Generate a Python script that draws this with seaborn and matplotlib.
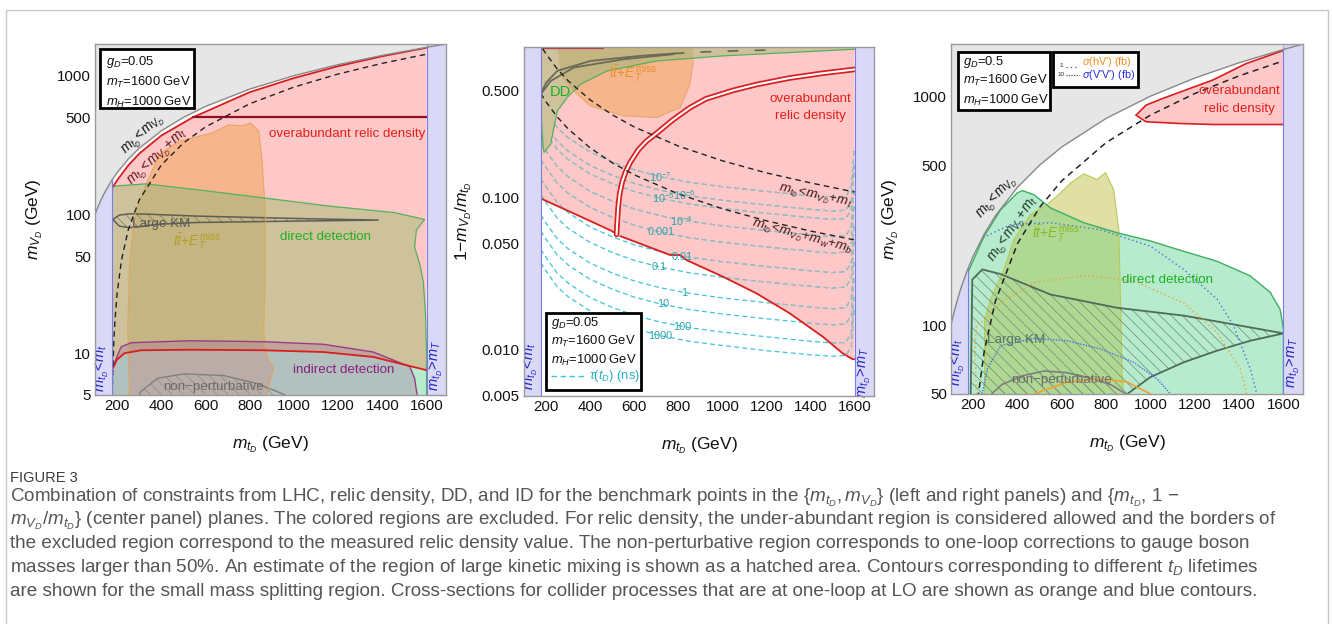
import numpy as np
import matplotlib
matplotlib.use("Agg")
import matplotlib.pyplot as plt
import seaborn as sns
from matplotlib.patches import Polygon, Rectangle
from matplotlib.lines import Line2D
from matplotlib.ticker import FixedLocator, FixedFormatter, MultipleLocator, LogLocator, NullFormatter

# ---------------- data ----------------
x_ticks = [200, 400, 600, 800, 1000, 1200, 1400, 1600]
x_ticklabels = ["200", "400", "600", "800", "1000", "1200", "1400", "1600"]
left_yticks = [5, 10, 50, 100, 500, 1000]
left_yticklabels = ["5", "10", "50", "100", "500", "1000"]
mid_yticks = [0.005, 0.01, 0.05, 0.1, 0.5]
mid_yticklabels = ["0.005", "0.010", "0.050", "0.100", "0.500"]
right_yticks = [50, 100, 500, 1000]
right_yticklabels = ["50", "100", "500", "1000"]

# kinematic boundary m_tD = m_VD
diag_x = [100, 110, 120, 135, 150, 175, 200, 250, 300, 400, 500, 600, 800, 1000, 1200, 1400, 1600]
diag_y = [100, 110, 120, 135, 150, 175, 200, 250, 300, 400, 500, 600, 800, 1000, 1200, 1400, 1600]
# m_tD = m_VD + m_t
mt_x = [178, 180, 185, 190, 200, 220, 250, 300, 400, 500, 600, 800, 1000, 1200, 1400, 1600]
mt_y = [5, 7, 12, 17, 27, 47, 77, 127, 227, 327, 427, 627, 827, 1027, 1227, 1427]

# ---- left panel (g_D = 0.05) ----
l_relic_lo_x = [181, 200, 233, 308, 533, 863, 1133, 1359, 1509, 1600]
l_relic_lo_y = [7.8, 9.0, 10.0, 10.5, 10.6, 10.5, 10.2, 9.4, 8.2, 7.55]
l_relic_hi_x = [181, 200, 250, 300, 400, 542, 800, 1000, 1200, 1400, 1600]
l_relic_hi_y = [158, 176, 225, 274, 370, 500, 760, 960, 1170, 1380, 1590]
l_relic500_x = [542, 1600]
l_relic500_y = [500, 500]
l_dd_top_x = [177, 188, 331, 556, 856, 1156, 1456, 1591]
l_dd_top_y = [160, 160, 166, 151, 132, 115, 103, 92]
l_dd_right_x = [1554, 1546, 1569, 1585, 1595, 1600, 1600]
l_dd_right_y = [77, 58, 44, 33, 20, 10, 5]
l_lhc_x = [256, 248, 256, 271, 286, 331, 390, 480, 631, 706, 766, 803, 841, 856, 871, 871, 863, 878, 908, 893, 878]
l_lhc_y = [5, 14.6, 44, 77, 106, 164, 270, 336, 387, 443, 435, 457, 398, 241, 106, 35, 14.6, 9.4, 7.9, 6.4, 5]
l_id_x = [181, 218, 263, 533, 863, 1133, 1359, 1524, 1546, 1554, 1558]
l_id_y = [8.0, 11.1, 11.9, 12.3, 12.1, 11.6, 10.2, 8.0, 6.6, 5.4, 5.0]
l_np_x = [300, 308, 383, 503, 683, 833, 923, 961]
l_np_y = [5, 5.3, 6.6, 7.1, 6.9, 6.05, 5.3, 5]
l_km_x = [181, 210, 255, 331, 556, 1006, 1381, 1006, 556, 376, 286, 255, 210, 181]
l_km_y = [92, 98.9, 101, 100.5, 97.3, 93.5, 91, 89.5, 87.5, 84.7, 81, 80.2, 82.4, 92]

# ---- centre panel (1 - m_VD/m_tD) ----
m_relic_lo_x = [176, 326, 499, 505, 537, 763, 808, 838, 1004, 1154, 1305, 1456, 1546, 1591, 1600]
m_relic_lo_y = [0.098, 0.0782, 0.060, 0.059, 0.0556, 0.0418, 0.0418, 0.0387, 0.0301, 0.0235, 0.0174, 0.0122, 0.0095, 0.0087, 0.0087]
m_chan_x = [520, 522, 527, 534, 545, 560, 582, 620, 655, 702, 775, 853, 926, 1050, 1154, 1300, 1450, 1600]
m_chan_y = [0.057, 0.065, 0.085, 0.105, 0.125, 0.145, 0.169, 0.205, 0.232, 0.262, 0.32, 0.385, 0.44, 0.5, 0.545, 0.6, 0.645, 0.685]
m_dd_x = [176, 176, 180, 186, 191, 221, 236, 251, 296, 357, 477, 703, 1004, 1305, 1591, 1600, 1600]
m_dd_y = [0.99, 0.45, 0.30, 0.22, 0.196, 0.222, 0.286, 0.366, 0.449, 0.548, 0.67, 0.778, 0.84, 0.883, 0.927, 0.93, 0.99]
m_lhc_x = [251, 266, 326, 401, 552, 703, 808, 853, 868, 868]
m_lhc_y = [0.99, 0.637, 0.495, 0.395, 0.34, 0.332, 0.385, 0.548, 0.778, 0.99]
m_kmA_x = [176, 221, 326, 552, 778]
m_kmA_y = [0.471, 0.575, 0.705, 0.798, 0.861]
m_kmB_x = [176, 200, 251, 401, 627, 778]
m_kmB_y = [0.471, 0.56, 0.67, 0.778, 0.84, 0.87]
m_kmC_x = [778, 900, 1050, 1250]
m_kmC_y = [0.87, 0.89, 0.905, 0.92]
m_mt_x = [185, 200, 250, 300, 400, 500, 600, 800, 1000, 1200, 1400, 1600]
m_mt_y = [0.935, 0.865, 0.692, 0.577, 0.433, 0.346, 0.288, 0.216, 0.173, 0.144, 0.124, 0.108]
m_wb_x = [176, 200, 250, 300, 400, 500, 600, 800, 1000, 1200, 1400, 1600]
m_wb_y = [0.477, 0.42, 0.336, 0.28, 0.21, 0.168, 0.14, 0.105, 0.084, 0.07, 0.06, 0.0525]
# t_D lifetime contours (ns)
tau_x = [176, 200, 250, 300, 400, 500, 600, 720, 850, 1000, 1200, 1400, 1500, 1560, 1585, 1598]
tau_1000 = [0.0372, 0.0329, 0.0260, 0.0223, 0.0180, 0.0155, 0.0138, 0.0124, 0.0114, 0.0107, 0.0099, 0.0093, 0.0091, 0.0092, 0.0105, 0.0186]
tau_100 = [0.0456, 0.0403, 0.0319, 0.0274, 0.0220, 0.0190, 0.0169, 0.0152, 0.0140, 0.0131, 0.0122, 0.0114, 0.0111, 0.0112, 0.0129, 0.0228]
tau_10 = [0.060, 0.053, 0.042, 0.036, 0.029, 0.025, 0.0222, 0.020, 0.0184, 0.0172, 0.016, 0.015, 0.0146, 0.0148, 0.017, 0.030]
tau_1 = [0.0765, 0.0676, 0.0536, 0.0459, 0.0370, 0.0319, 0.0283, 0.0255, 0.0235, 0.0219, 0.0204, 0.0191, 0.0186, 0.0189, 0.0217, 0.0383]
tau_0p1 = [0.104, 0.0922, 0.0731, 0.0626, 0.0505, 0.0435, 0.0386, 0.0348, 0.0320, 0.0299, 0.0278, 0.0261, 0.0254, 0.0258, 0.0296, 0.0522]
tau_0p01 = [0.132, 0.117, 0.0924, 0.0792, 0.0638, 0.055, 0.0488, 0.044, 0.0405, 0.0378, 0.0352, 0.033, 0.0321, 0.0326, 0.0374, 0.066]
tau_1em3 = [0.177, 0.156, 0.124, 0.106, 0.0856, 0.0738, 0.0655, 0.059, 0.0543, 0.0507, 0.0472, 0.0443, 0.0431, 0.0437, 0.0502, 0.0885]
tau_1em4 = [0.227, 0.200, 0.159, 0.136, 0.109, 0.0944, 0.0838, 0.0755, 0.0695, 0.0649, 0.0604, 0.0566, 0.0551, 0.0559, 0.0642, 0.113]
tau_1em5 = [0.294, 0.260, 0.206, 0.176, 0.142, 0.1225, 0.109, 0.098, 0.0902, 0.0843, 0.0784, 0.0735, 0.0715, 0.0725, 0.0833, 0.147]
tau_1em6 = [0.333, 0.294, 0.233, 0.200, 0.161, 0.139, 0.123, 0.111, 0.102, 0.0955, 0.0888, 0.0833, 0.081, 0.0821, 0.0944, 0.167]
tau_1em7 = [0.408, 0.360, 0.286, 0.245, 0.197, 0.170, 0.151, 0.136, 0.125, 0.117, 0.109, 0.102, 0.0993, 0.101, 0.116, 0.204]
tau_labels = ["1000", "100", "10", "1", "0.1", "0.01", "0.001", r"$10^{-4}$", r"$10^{-5}$", r"$10^{-6}$", r"$10^{-7}$"]
tau_label_x = [718, 816, 730, 828, 715, 817, 723, 813, 733, 828, 719]
tau_label_y = [0.0124, 0.0142, 0.0200, 0.0235, 0.0348, 0.0407, 0.0593, 0.070, 0.098, 0.103, 0.136]

# ---- right panel (g_D = 0.5) ----
r_dd_x = [175, 175, 249, 324, 399, 422, 474, 549, 699, 850, 1000, 1150, 1300, 1450, 1540, 1585, 1600, 1600]
r_dd_y = [50, 169, 244, 319, 378, 387, 371, 325, 280, 253, 233, 210, 190, 164, 139, 117, 96, 50]
r_lhc_x = [252, 252, 279, 339, 369, 384, 459, 534, 594, 639, 699, 759, 797, 834, 857, 865, 872, 878]
r_lhc_y = [50, 106, 130, 175, 214, 237, 304, 336, 378, 417, 458, 432, 464, 390, 261, 125, 60, 50]
r_relic_hi_x = [935, 980, 1055, 1280, 1431, 1600]
r_relic_hi_y = [826, 914, 977, 1175, 1387, 1585]
r_relic_lo_x = [935, 980, 1130, 1280, 1600]
r_relic_lo_y = [826, 773, 760, 752, 752]
r_km_x = [189, 196, 241, 324, 549, 850, 1150, 1450, 1600, 1450, 1300, 1150, 1000, 895]
r_km_y = [50, 158, 175, 167, 136, 119, 110, 97.7, 92, 85.4, 77.3, 68.8, 59.3, 50]
r_np_x = [282, 330, 420, 520, 620, 720, 820, 890]
r_np_y = [50, 55, 60, 63, 62, 59, 55, 50]
r_vv10_x = [245, 369, 549, 774, 1000, 1150, 1300, 1375, 1450, 1480]
r_vv10_y = [241, 275, 280, 261, 221, 175, 130, 99.3, 64.4, 50]
r_vv1_x = [241, 264, 324, 474, 624, 774, 924, 1030, 1090]
r_vv1_y = [50, 64.4, 81.3, 87.5, 85.4, 78.7, 68.8, 58.2, 50]
r_hv1_x = [215, 208, 215, 250, 324, 474, 699, 924, 1150, 1300, 1405, 1435]
r_hv1_y = [50, 80, 100, 105, 125, 153, 165, 156, 125, 93, 64.4, 50]
r_hv10_x = [474, 624, 774, 895, 1000]
r_hv10_y = [50, 56.4, 58.2, 56.4, 50]

# ---------------- style ----------------
sns.set_theme(style="white")
plt.rcParams['font.family'] = ['Liberation Sans', 'DejaVu Sans']
plt.rcParams['mathtext.fontset'] = 'custom'
plt.rcParams['mathtext.rm'] = 'Liberation Sans'
plt.rcParams['mathtext.it'] = 'Liberation Sans:italic'
plt.rcParams['mathtext.bf'] = 'Liberation Sans:bold'
plt.rcParams['hatch.linewidth'] = 0.5

PINK = '#ffc8c8'
MINT = '#b7ebcd'
TAN = '#cdc29c'
OLIVE = '#c4b582'
ORANGE = '#f7b58e'
LAV = '#d9d9f7'
GRAYR = '#e6e6e6'
RED = '#d81e1e'

fig = plt.figure(figsize=(13.32, 6.24), dpi=100)
W, H = 1332.0, 624.0


def ax_at(x0, y0, x1, y1):
    return fig.add_axes([x0 / W, 1 - y1 / H, (x1 - x0) / W, (y1 - y0) / H])


axL = ax_at(95, 44, 446, 395)
axM = ax_at(524, 47, 874, 396)
axR = ax_at(951, 44, 1303, 394)


def fill(ax, xs, ys, color, z, clip=None, **kw):
    p = ax.fill(xs, ys, facecolor=color, edgecolor='none', linewidth=0, zorder=z, **kw)[0]
    if clip is not None:
        p.set_clip_path(clip)
    return p


def cpoly(ax, xs, ys):
    return Polygon(np.column_stack([xs, ys]), closed=True, transform=ax.transData)


def line(ax, xs, ys, color, lw=1.0, ls='-', z=10, alpha=1.0, clip=None):
    sns.lineplot(x=xs, y=ys, ax=ax, color=color, linewidth=lw, linestyle=ls, sort=False,
                 estimator=None, zorder=z, alpha=alpha, legend=False)
    ln = ax.lines[-1]
    if clip is not None:
        ln.set_clip_path(clip)
    return ln


def setup(ax, yticks, ylabels, ylim, ylabel):
    ax.set_yscale('log')
    ax.set_xlim(100, 1688)
    ax.set_ylim(*ylim)
    ax.xaxis.set_major_locator(FixedLocator(x_ticks))
    ax.xaxis.set_major_formatter(FixedFormatter(x_ticklabels))
    ax.xaxis.set_minor_locator(MultipleLocator(50))
    ax.yaxis.set_major_locator(FixedLocator(yticks))
    ax.yaxis.set_major_formatter(FixedFormatter(ylabels))
    ax.yaxis.set_minor_locator(LogLocator(base=10, subs=np.arange(1, 10), numticks=60))
    ax.yaxis.set_minor_formatter(NullFormatter())
    ax.tick_params(which='both', direction='in', top=True, right=True, color='#777',
                   labelcolor='#111', labelsize=10.8)
    ax.tick_params(which='major', length=6, width=0.8, pad=3)
    ax.tick_params(which='minor', length=3, width=0.6)
    for s in ax.spines.values():
        s.set_color('#9a9a9a')
        s.set_linewidth(1.0)
        s.set_zorder(40)
    ax.set_xlabel(r"$m_{t_D}$ (GeV)", fontsize=12.5, color='#111')
    ax.set_ylabel(ylabel, fontsize=12.5, color='#111')
    ax.xaxis.set_label_coords(0.5, -0.113)
    ax.yaxis.set_label_coords(-0.143, 0.5)


def bands(ax, ytop, band_texts_y):
    ax.axvspan(100, 176, facecolor=LAV, edgecolor='none', zorder=5)
    ax.axvspan(1600, 1700, facecolor=LAV, edgecolor='none', zorder=5)
    ax.axvline(176, color='#7b7be6', lw=0.8, zorder=5.5)
    ax.axvline(1600, color='#7b7be6', lw=0.8, zorder=5.5)
    ax.text(132, band_texts_y[0], r"$m_{t_D}\!<\!m_t$", rotation=90, color='#2323c8', fontsize=10.5,
            ha='center', va='center', zorder=20)
    ax.text(1644, band_texts_y[1], r"$m_{t_D}\!>\!m_T$", rotation=90, color='#2323c8', fontsize=10.5,
            ha='center', va='center', zorder=20)


def gray_region(ax, ytop):
    gx = diag_x + [1600, 100]
    gy = diag_y + [ytop * 2, ytop * 2]
    fill(ax, gx, gy, GRAYR, 6)
    line(ax, diag_x + [1690], diag_y + [1690], '#888888', lw=1.0, z=6.5)


def infobox(ax, x0, y0, x1, y1, lines_, tx, tys, fs=9.4):
    ax.add_patch(Rectangle((x0, y0), x1 - x0, y1 - y0, transform=ax.transAxes, facecolor='white',
                           edgecolor='black', lw=2.0, zorder=30))
    for s, ty in zip(lines_, tys):
        ax.text(tx, ty, s, transform=ax.transAxes, fontsize=fs, ha='left', va='center', color='#111', zorder=31)


HATCH = '\\\\\\'

# ================= LEFT PANEL =================
ax = axL
relic_x = l_relic_lo_x + l_relic_hi_x[::-1]
relic_y = l_relic_lo_y + l_relic_hi_y[::-1]
fill(ax, relic_x, relic_y, PINK, 1)
dd_x = l_dd_top_x + l_dd_right_x + [177]
dd_y = l_dd_top_y + l_dd_right_y + [5]
fill(ax, dd_x, dd_y, MINT, 2)
fill(ax, dd_x, dd_y, TAN, 2.1, clip=cpoly(ax, relic_x, relic_y))
fill(ax, l_lhc_x, l_lhc_y, OLIVE, 3)
fill(ax, l_lhc_x, l_lhc_y, ORANGE, 3.1, clip=cpoly(ax, l_dd_top_x + [1591, 177], l_dd_top_y + [9000, 9000]))
fill(ax, l_lhc_x, l_lhc_y, '#c3cfae', 3.2, clip=cpoly(ax, l_relic_lo_x + [1600, 181], l_relic_lo_y + [1, 1]))
fill(ax, l_id_x + [181], l_id_y + [5], '#a8609a', 3.5, alpha=0.3)
# hatched regions
ax.fill(l_np_x, l_np_y, facecolor='none', edgecolor='#8a8a8a', hatch=HATCH, linewidth=0, zorder=4)
line(ax, l_np_x, l_np_y, '#808080', lw=1.0, z=4.1)
ax.fill(l_km_x, l_km_y, facecolor='none', edgecolor='#7a7a6a', hatch=HATCH, linewidth=0, zorder=4)
line(ax, l_km_x, l_km_y, '#5e5e55', lw=1.1, z=4.1)
# edges
line(ax, l_lhc_x, l_lhc_y, '#e3a456', lw=0.8, z=4.2, alpha=0.8)
line(ax, dd_x[:-1], dd_y[:-1], '#56b05a', lw=0.9, z=4.3)
line(ax, l_id_x, l_id_y, '#9b3a8c', lw=1.0, z=4.4)
line(ax, l_relic_lo_x, l_relic_lo_y, RED, lw=1.3, z=4.5)
line(ax, l_relic_hi_x, l_relic_hi_y, RED, lw=1.3, z=4.5)
line(ax, l_relic500_x, l_relic500_y, '#8e1126', lw=1.6, z=4.5)
line(ax, mt_x, mt_y, '#222222', lw=1.0, ls=(0, (4, 3)), z=4.6)
bands(ax, 1690, [7.8, 8.2])
gray_region(ax, 1690)
ax.text(1241, 377, "overabundant relic density", color='#e3201c', fontsize=9.6, ha='center', va='center', zorder=20)
ax.text(1141, 68.8, "direct detection", color='#1fae1f', fontsize=9.6, ha='center', va='center', zorder=20)
ax.text(563, 64.3, r"$t\bar{t}$+$E_T^{\rm miss}$", color='#b4a020', fontsize=10, ha='center', va='center', zorder=20)
ax.text(398, 84.7, "Large KM", color='#5a5a55', fontsize=9.6, ha='center', va='center', zorder=20)
ax.text(1223, 7.55, "indirect detection", color='#8a1c7c', fontsize=9.6, ha='center', va='center', zorder=20)
ax.text(638, 5.73, "non\u2212perturbative", color='#6a6a6a', fontsize=9.6, ha='center', va='center', zorder=20)
ax.text(317, 377, r"$m_{t_D}\!<\!m_{V_D}$", color='#111', fontsize=9.8, rotation=43, ha='center', va='center',
        rotation_mode='anchor', zorder=20)
ax.text(385, 257, r"$m_{t_D}\!<\!m_{V_D}\!+\!m_t$", color='#5a1414', fontsize=9.8, rotation=43, ha='center',
        va='center', rotation_mode='anchor', zorder=20)
infobox(ax, 0.014, 0.817, 0.282, 0.986, [r"$g_D$=0.05", r"$m_T$=1600 GeV", r"$m_H$=1000 GeV"],
        0.03, [0.948, 0.891, 0.834])
setup(ax, left_yticks, left_yticklabels, (5, 1690), r"$m_{V_D}$ (GeV)")

# ================= CENTRE PANEL =================
ax = axM
mrel_x = m_relic_lo_x + [1600, 176]
mrel_y = m_relic_lo_y + [1.2, 1.2]
fill(ax, mrel_x, mrel_y, PINK, 1)
taus = [tau_1000, tau_100, tau_10, tau_1, tau_0p1, tau_0p01, tau_1em3, tau_1em4, tau_1em5, tau_1em6, tau_1em7]
for ty in taus:
    line(ax, tau_x, ty, '#3cc6d6', lw=0.9, ls=(0, (4, 2.5)), z=1.5)
    line(ax, tau_x, ty, '#a8baba', lw=0.9, ls=(0, (4, 2.5)), z=1.6, clip=cpoly(ax, mrel_x, mrel_y))
fill(ax, m_dd_x, m_dd_y, TAN, 2)
fill(ax, m_lhc_x, m_lhc_y, ORANGE, 3)
fill(ax, m_lhc_x, m_lhc_y, OLIVE, 3.1, clip=cpoly(ax, m_dd_x, m_dd_y))
line(ax, m_lhc_x[1:-1], m_lhc_y[1:-1], '#e3a456', lw=0.8, z=4.2, alpha=0.8)
line(ax, m_dd_x[1:-1], m_dd_y[1:-1], '#56b05a', lw=0.9, z=4.3)
line(ax, m_kmA_x, m_kmA_y, '#6a6a58', lw=1.3, z=4.4)
line(ax, m_kmB_x, m_kmB_y, '#6a6a58', lw=1.3, z=4.4)
line(ax, m_kmC_x, m_kmC_y, '#6a6a58', lw=1.3, ls=(0, (6, 9)), z=4.4)
line(ax, [176, 460], [0.95, 0.95], '#b43048', lw=1.6, z=4.4)
line(ax, m_relic_lo_x[:4], m_relic_lo_y[:4], RED, lw=1.3, z=4.5)
line(ax, m_relic_lo_x[4:], m_relic_lo_y[4:], RED, lw=1.3, z=4.5)
line(ax, m_chan_x, m_chan_y, RED, lw=4.0, z=4.5)
line(ax, m_chan_x, m_chan_y, 'white', lw=1.5, z=4.6)
line(ax, m_mt_x, m_mt_y, '#222222', lw=1.0, ls=(0, (4, 3)), z=4.7)
line(ax, m_wb_x, m_wb_y, '#222222', lw=1.0, ls=(0, (4, 3)), z=4.7)
for s, tx, ty in zip(tau_labels, tau_label_x, tau_label_y):
    ax.text(tx, ty, s, color='#26a4a8', fontsize=7.8, ha='center', va='center', zorder=20)
bands(ax, 0.96, [0.0078, 0.0071])
ax.text(1401, 0.385, "overabundant\nrelic density", color='#e3201c', fontsize=9.6, ha='center', va='center',
        linespacing=1.6, zorder=20)
ax.text(263, 0.485, "DD", color='#1fae1f', fontsize=10.5, ha='center', va='center', zorder=20)
ax.text(593, 0.645, r"$t\bar{t}$+$E_T^{\rm miss}$", color='#e39328', fontsize=10, ha='center', va='center', zorder=20)
ax.text(1420, 0.1016, r"$m_{t_D}\!<\!m_{V_D}\!+\!m_t$", color='#3c1818', fontsize=9.6, rotation=-12,
        ha='center', va='center', rotation_mode='anchor', zorder=20)
ax.text(1361, 0.0548, r"$m_{t_D}\!<\!m_{V_D}\!+\!m_w\!+\!m_b$", color='#3c1818', fontsize=9.6, rotation=-15,
        ha='center', va='center', rotation_mode='anchor', zorder=20)
infobox(ax, 0.062, 0.017, 0.333, 0.239, [r"$g_D$=0.05", r"$m_T$=1600 GeV", r"$m_H$=1000 GeV"],
        0.076, [0.208, 0.156, 0.103])
ax.add_line(Line2D([0.076, 0.176], [0.057, 0.057], transform=ax.transAxes, color='#3cc6d6', lw=1.0,
                   linestyle=(0, (4, 2.5)), zorder=31))
ax.text(0.186, 0.057, r"$\tau(t_D)$ (ns)", transform=ax.transAxes, color='#26b0c0', fontsize=9.4,
        ha='left', va='center', zorder=31)
setup(ax, mid_yticks, mid_yticklabels, (0.005, 0.96), r"1$-m_{V_D}/m_{t_D}$")

# ================= RIGHT PANEL =================
ax = axR
fill(ax, r_dd_x, r_dd_y, MINT, 1)
fill(ax, r_lhc_x, r_lhc_y, '#e0e0a6', 2)
fill(ax, r_lhc_x, r_lhc_y, '#afd993', 2.1, clip=cpoly(ax, r_dd_x, r_dd_y))
rr_x = r_relic_hi_x + [1600] + r_relic_lo_x[::-1]
rr_y = r_relic_hi_y + [752] + r_relic_lo_y[::-1]
fill(ax, rr_x, rr_y, PINK, 2.2)
line(ax, r_relic_hi_x, r_relic_hi_y, RED, lw=1.2, z=4.5)
line(ax, r_relic_lo_x, r_relic_lo_y, RED, lw=1.2, z=4.5)
line(ax, r_lhc_x, r_lhc_y, '#b9c957', lw=0.8, z=3)
line(ax, r_dd_x[1:], r_dd_y[1:], '#3eae62', lw=1.0, z=3.1)
ax.fill(r_km_x, r_km_y, facecolor='none', edgecolor='#6f8a78', hatch=HATCH, linewidth=0, zorder=3.2)
line(ax, r_km_x, r_km_y, '#4f6b5a', lw=1.3, z=3.3)
ax.fill(r_np_x, r_np_y, facecolor='none', edgecolor='#8a8a8a', hatch=HATCH, linewidth=0, zorder=3.2)
line(ax, r_np_x, r_np_y, '#7e7e7e', lw=1.2, z=3.3)
line(ax, r_vv10_x, r_vv10_y, '#4a6ee0', lw=1.0, ls=(0, (1, 2)), z=3.4)
line(ax, r_vv1_x, r_vv1_y, '#4a6ee0', lw=1.0, ls=(0, (1, 1)), z=3.4)
line(ax, r_hv1_x, r_hv1_y, '#f0a030', lw=1.0, ls=(0, (1, 2)), z=3.4)
line(ax, r_hv10_x, r_hv10_y, '#f0a030', lw=1.2, z=3.4)
line(ax, mt_x, mt_y, '#222222', lw=1.1, ls=(0, (4, 3)), z=4.6)
bands(ax, 1690, [68.9, 68.9])
gray_region(ax, 1690)
ax.text(1400, 963, "overabundant\nrelic density", color='#e3201c', fontsize=9.6, ha='center', va='center',
        linespacing=1.6, zorder=20)
ax.text(1077, 158, "direct detection", color='#1fb01f', fontsize=9.6, ha='center', va='center', zorder=20)
ax.text(575, 253, r"$t\bar{t}$+$E_T^{\rm miss}$", color='#8ab820', fontsize=10, ha='center', va='center', zorder=20)
ax.text(395, 86.3, "Large KM", color='#587564', fontsize=9.6, ha='center', va='center', zorder=20)
ax.text(597, 57.8, "non\u2212perturbative", color='#6a6a6a', fontsize=9.6, ha='center', va='center', zorder=20)
ax.text(310, 360, r"$m_{t_D}\!<\!m_{V_D}$", color='#111', fontsize=9.8, rotation=48, ha='center', va='center',
        rotation_mode='anchor', zorder=20)
ax.text(382, 261, r"$m_{t_D}\!<\!m_{V_D}\!+\!m_t$", color='#1d3324', fontsize=9.8, rotation=55, ha='center',
        va='center', rotation_mode='anchor', zorder=20)
infobox(ax, 0.021, 0.811, 0.281, 0.978, [r"$g_D$=0.5", r"$m_T$=1600 GeV", r"$m_H$=1000 GeV"],
        0.033, [0.949, 0.895, 0.840])
ax.add_patch(Rectangle((0.291, 0.878), 0.241, 0.1, transform=ax.transAxes, facecolor='white',
                       edgecolor='black', lw=2.0, zorder=30))
ax.text(0.312, 0.938, "1", transform=ax.transAxes, fontsize=4.5, ha='center', va='center', zorder=31)
ax.text(0.312, 0.912, "10", transform=ax.transAxes, fontsize=4.5, ha='center', va='center', zorder=31)
ax.add_line(Line2D([0.328, 0.365], [0.935, 0.935], transform=ax.transAxes, color='#555', lw=0.9,
                   linestyle=(0, (1, 2.5)), zorder=31))
ax.add_line(Line2D([0.328, 0.365], [0.912, 0.912], transform=ax.transAxes, color='#555', lw=0.9,
                   linestyle=(0, (1, 1)), zorder=31))
ax.text(0.372, 0.949, r"$\sigma$(hV') (fb)", transform=ax.transAxes, fontsize=7.8, color='#f08c1e',
        ha='left', va='center', zorder=31)
ax.text(0.372, 0.912, r"$\sigma$(V'V') (fb)", transform=ax.transAxes, fontsize=7.8, color='#2a2ae0',
        ha='left', va='center', zorder=31)
setup(ax, right_yticks, right_yticklabels, (50, 1690), r"$m_{V_D}$ (GeV)")

# ================= frame & caption =================
fig.add_artist(Rectangle((6 / W, -0.05), (1328 - 6) / W, 1 - 10 / H + 0.05, transform=fig.transFigure,
                         facecolor='none', edgecolor='#c8c8c8', lw=1.0))
cap_col = '#555555'
fig.text(10 / W, 1 - 478 / H, "FIGURE 3", fontsize=10.5, color='#3a3a3a', ha='left', va='center')
caption = [
    r"Combination of constraints from LHC, relic density, DD, and ID for the benchmark points in the $\{m_{t_D}, m_{V_D}\}$ (left and right panels) and $\{m_{t_D}$, 1 $-$",
    r"$m_{V_D}/m_{t_D}\}$ (center panel) planes. The colored regions are excluded. For relic density, the under-abundant region is considered allowed and the borders of",
    "the excluded region correspond to the measured relic density value. The non-perturbative region corresponds to one-loop corrections to gauge boson",
    r"masses larger than 50%. An estimate of the region of large kinetic mixing is shown as a hatched area. Contours corresponding to different $t_D$ lifetimes",
    "are shown for the small mass splitting region. Cross-sections for collider processes that are at one-loop at LO are shown as orange and blue contours.",
]
cap_y = [498, 521, 544, 568, 591]
for s, yy in zip(caption, cap_y):
    fig.text(10 / W, 1 - yy / H, s, fontsize=13.6, color=cap_col, ha='left', va='center')

fig.savefig("out.png", dpi=100)
